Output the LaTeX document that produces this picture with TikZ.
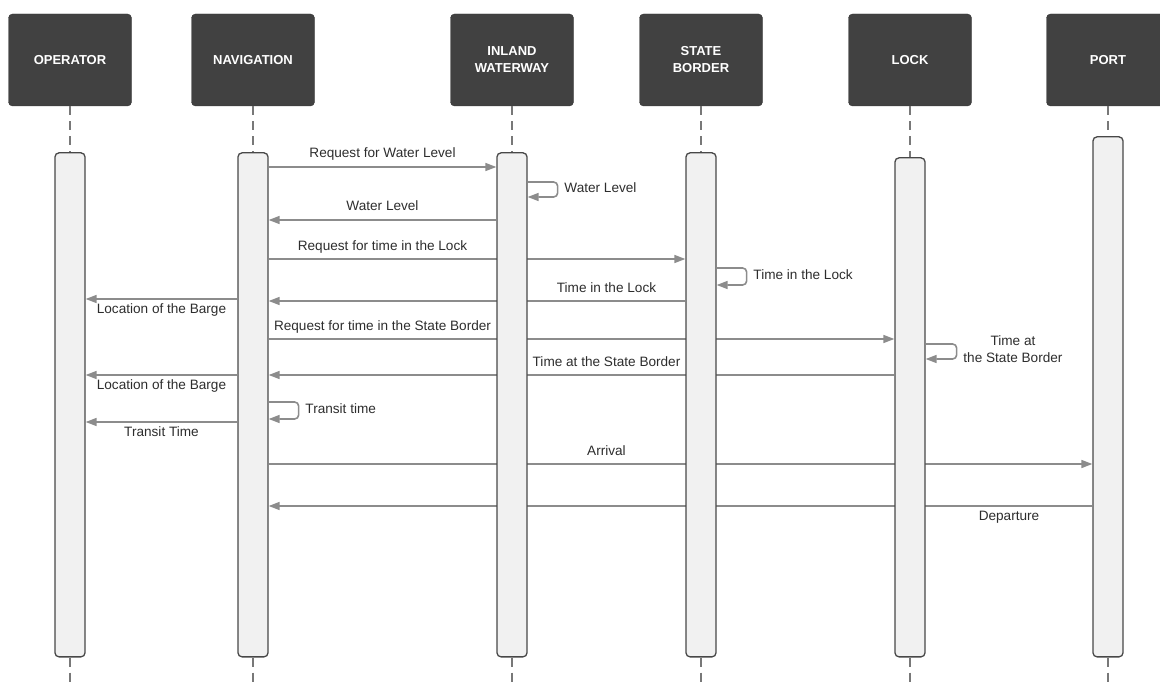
\documentclass[tikz,border=0pt]{standalone}
\usepackage{fontspec}
\setmainfont{Liberation Sans}
\usetikzlibrary{arrows.meta, positioning}
\definecolor{headGrey}{RGB}{65,65,65}
\definecolor{barFill}{RGB}{241,241,241}
\definecolor{barEdge}{RGB}{72,72,72}
\definecolor{msgGrey}{RGB}{140,140,140}
\definecolor{lifeGrey}{RGB}{120,120,120}
\definecolor{textGrey}{RGB}{45,45,45}
\pgfdeclarelayer{back}
\pgfsetlayers{back,main}

\begin{document}
\begin{tikzpicture}[x=1pt, y=-1pt,
    head/.style={rectangle, rounded corners=4pt, fill=headGrey, draw=headGrey!85!black, minimum width=123pt, minimum height=92pt, align=center, text=white, font=\fontsize{13}{17}\selectfont\bfseries},
    bar/.style={rectangle, rounded corners=4pt, fill=barFill, draw=barEdge, line width=1.3pt, minimum width=30pt, inner sep=0pt},
    life/.style={lifeGrey, line width=1.2pt, dash pattern=on 9pt off 6pt},
    msg/.style={-{Triangle[length=11pt, width=8pt]}, msgGrey, line width=1.6pt},
    lbl/.style={font=\fontsize{13.6}{17}\selectfont, text=textGrey, inner sep=0pt},
    lblup/.style={lbl, anchor=base, yshift=9pt},
    lbldn/.style={lbl, anchor=base, yshift=-14pt},
    lblself/.style={lbl, anchor=west, xshift=6pt, yshift=2pt, align=center}
]
    \useasboundingbox (0,0) rectangle (1160,682);

    % participants
    \node[head] (op) at (70,60) {OPERATOR};
    \node[head] (nav) at (253,60) {NAVIGATION};
    \node[head] (iw) at (512,60) {INLAND\\WATERWAY};
    \node[head] (sb) at (701,60) {STATE\\BORDER};
    \node[head] (lk) at (910,60) {LOCK};
    \node[head] (pt) at (1108,60) {PORT};

    % activation bars
    \node[bar, below=46pt of op, minimum height=504pt] (opbar) {};
    \node[bar, below=46pt of nav, minimum height=504pt] (navbar) {};
    \node[bar, below=46pt of iw, minimum height=504pt] (iwbar) {};
    \node[bar, below=46pt of sb, minimum height=504pt] (sbbar) {};
    \node[bar, below=51pt of lk, minimum height=499pt] (lkbar) {};
    \node[bar, below=30pt of pt, minimum height=520pt] (ptbar) {};

    % lifelines
    \foreach \p in {op, nav, iw, sb, lk, pt} {
        \coordinate (\p end) at (\p |- 0,682);
        \draw[life] (\p) -- (\p bar);
        \draw[life] (\p bar) -- (\p end);
    }

    % message rows
    \coordinate (r1) at (0,167);
    \coordinate (s1) at (0,182);
    \coordinate (r2) at (0,220);
    \coordinate (r3) at (0,259);
    \coordinate (s2) at (0,268);
    \coordinate (r4) at (0,301);
    \coordinate (r5) at (0,299);
    \coordinate (r6) at (0,339);
    \coordinate (s3) at (0,344);
    \coordinate (r7) at (0,375);
    \coordinate (r8) at (0,375);
    \coordinate (s4) at (0,402);
    \coordinate (r9) at (0,422);
    \coordinate (r10) at (0,464);
    \coordinate (r11) at (0,506);

    \begin{pgfonlayer}{back}
    \draw[msg] (navbar.east |- r1) -- (iwbar.west |- r1);
    \draw[msg] (iwbar.west |- r2) -- (navbar.east |- r2);
    \draw[msg] (navbar.east |- r3) -- (sbbar.west |- r3);
    \draw[msg] (sbbar.west |- r4) -- (navbar.east |- r4);
    \draw[msg] (navbar.west |- r5) -- (opbar.east |- r5);
    \draw[msg] (navbar.east |- r6) -- (lkbar.west |- r6);
    \draw[msg] (lkbar.west |- r7) -- (navbar.east |- r7);
    \draw[msg] (navbar.west |- r8) -- (opbar.east |- r8);
    \draw[msg] (navbar.west |- r9) -- (opbar.east |- r9);
    \draw[msg] (navbar.east |- r10) -- (ptbar.west |- r10);
    \draw[msg] (ptbar.west |- r11) -- (navbar.east |- r11);
    \end{pgfonlayer}

    % self messages
    \draw[msg, rounded corners=4pt] (iwbar.east |- s1) -- ++(30,0) -- node[lblself] {Water Level} ++(0,15) -- ++(-30,0);
    \draw[msg, rounded corners=4pt] (sbbar.east |- s2) -- ++(30,0) -- node[lblself] {Time in the Lock} ++(0,17) -- ++(-30,0);
    \draw[msg, rounded corners=4pt] (lkbar.east |- s3) -- ++(31,0) -- node[lblself] {Time at\\the State Border} ++(0,15) -- ++(-31,0);
    \draw[msg, rounded corners=4pt] (navbar.east |- s4) -- ++(30,0) -- node[lblself] {Transit time} ++(0,17) -- ++(-30,0);

    % labels
    \path (navbar.east |- r1) -- node[lblup] {Request for Water Level} (iwbar.west |- r1);
    \path (navbar.east |- r2) -- node[lblup] {Water Level} (iwbar.west |- r2);
    \path (navbar.east |- r3) -- node[lblup] {Request for time in the Lock} (iwbar.west |- r3);
    \path (iwbar.east |- r4) -- node[lblup] {Time in the Lock} (sbbar.west |- r4);
    \path (opbar.east |- r5) -- node[lbldn] {Location of the Barge} (navbar.west |- r5);
    \path (navbar.east |- r6) -- node[lblup] {Request for time in the State Border} (iwbar.west |- r6);
    \path (iwbar.east |- r7) -- node[lblup] {Time at the State Border} (sbbar.west |- r7);
    \path (opbar.east |- r8) -- node[lbldn] {Location of the Barge} (navbar.west |- r8);
    \path (opbar.east |- r9) -- node[lbldn] {Transit Time} (navbar.west |- r9);
    \path (iwbar.east |- r10) -- node[lblup] {Arrival} (sbbar.west |- r10);
    \path (lkbar.east |- r11) -- node[lbldn] {Departure} (ptbar.west |- r11);
\end{tikzpicture}
\end{document}
